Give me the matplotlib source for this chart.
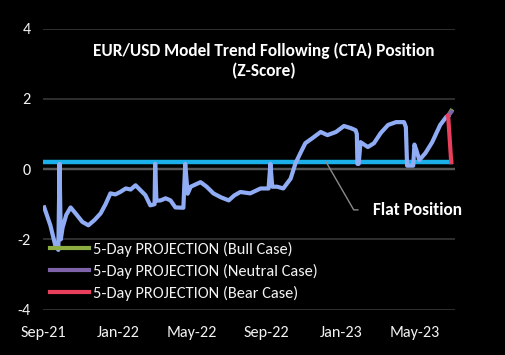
import numpy as np
import matplotlib
matplotlib.use('Agg')
import matplotlib.pyplot as plt
import matplotlib.dates as mdates

plt.rcParams['font.family'] = ['Carlito', 'DejaVu Sans']
plt.rcParams['axes.unicode_minus'] = False

# CTA position z-score
dates = ['2021-09-03', '2021-09-13', '2021-09-21', '2021-09-26', '2021-09-28', '2021-09-30',
         '2021-10-03', '2021-10-09', '2021-10-16', '2021-10-26', '2021-11-04', '2021-11-14',
         '2021-11-24', '2021-12-04', '2021-12-12', '2021-12-20', '2021-12-28', '2022-01-05',
         '2022-01-14', '2022-01-22', '2022-01-30', '2022-02-07', '2022-02-15', '2022-02-23',
         '2022-03-02', '2022-03-03', '2022-03-05', '2022-03-12', '2022-03-20', '2022-03-28',
         '2022-04-05', '2022-04-18', '2022-04-21', '2022-04-25', '2022-04-30', '2022-05-16',
         '2022-05-26', '2022-06-06', '2022-06-18', '2022-07-01', '2022-07-10', '2022-07-20',
         '2022-08-05', '2022-08-22', '2022-09-04', '2022-09-07', '2022-09-10', '2022-09-18',
         '2022-09-28', '2022-10-10', '2022-10-18', '2022-10-26', '2022-11-03', '2022-11-15',
         '2022-11-28', '2022-12-09', '2022-12-23', '2023-01-05', '2023-01-16', '2023-01-24',
         '2023-01-26', '2023-01-27', '2023-01-29', '2023-02-01', '2023-02-13', '2023-02-23',
         '2023-03-06', '2023-03-18', '2023-03-31', '2023-04-13', '2023-04-16', '2023-04-18',
         '2023-04-24', '2023-04-28', '2023-04-30', '2023-05-03', '2023-05-08', '2023-05-18',
         '2023-05-29', '2023-06-11', '2023-06-21', '2023-06-24']
zscore = [-1.09, -1.6, -2.17, -2.3, 0.15, -2.0,
          -1.66, -1.3, -1.09, -1.3, -1.5, -1.6,
          -1.45, -1.26, -1.0, -0.69, -0.72, -0.65,
          -0.55, -0.58, -0.46, -0.6, -0.74, -1.03,
          -1.0, 0.15, -0.9, -0.89, -0.83, -0.89,
          -1.09, -1.1, 0.15, -0.7, -0.5, -0.37,
          -0.5, -0.69, -0.8, -0.89, -0.75, -0.65,
          -0.69, -0.55, -0.55, 0.15, -0.5, -0.5,
          -0.55, -0.27, 0.17, 0.46, 0.74, 0.89,
          1.06, 0.97, 1.06, 1.23, 1.17, 1.11,
          1.0, 0.15, 0.15, 0.77, 0.63, 0.74,
          1.03, 1.26, 1.34, 1.34, 1.2, 0.1,
          0.1, 0.1, 0.7, 0.55, 0.26, 0.46,
          0.77, 1.26, 1.49, 1.52]

proj_dates = ['2023-06-24', '2023-06-29']
bull = [1.52, 1.66]
neutral = [1.52, 1.63]
bear = [1.52, 0.2]

flat_dates = ['2021-09-01', '2023-06-29']
flat = [0.2, 0.2]

x = np.array(dates, dtype='datetime64[D]')
px = np.array(proj_dates, dtype='datetime64[D]')
fx = np.array(flat_dates, dtype='datetime64[D]')

fig = plt.figure(figsize=(5.06, 3.55), dpi=100, facecolor='black')
ax = fig.add_axes([0.085, 0.128, 0.814, 0.791], facecolor='black')

ax.set_ylim(-4, 4)
ax.set_yticks([-4, -2, 0, 2, 4])
ax.set_xlim(np.datetime64('2021-09-01'), np.datetime64('2023-07-05'))
ax.xaxis.set_major_locator(mdates.MonthLocator(bymonth=[1, 5, 9]))
ax.xaxis.set_major_formatter(mdates.DateFormatter('%b-%y'))
for s in ax.spines.values():
    s.set_visible(False)
ax.tick_params(length=0, colors='#f2f2f2', labelsize=12)
ax.tick_params(axis='y', pad=9)
ax.tick_params(axis='x', pad=12)
ax.grid(axis='y', color='#3c3c3c', lw=1.1)
ax.axhline(0, color='#a8a8a8', lw=1.6, zorder=1)

ax.plot(fx, flat, color='#1cb0ea', lw=3.2, zorder=3)
ax.plot(x, zscore, color='#90acf4', lw=3, zorder=4, solid_joinstyle='round')
ax.plot(px, bull, color='#8cac44', lw=3, zorder=5, label='5-Day PROJECTION (Bull Case)')
ax.plot(px, neutral, color='#7f63a8', lw=3, zorder=6, label='5-Day PROJECTION (Neutral Case)')
ax.plot(px, bear, color='#e8405c', lw=3, zorder=7, label='5-Day PROJECTION (Bear Case)')

ax.annotate('Flat Position', xy=(np.datetime64('2022-12-07'), 0.2),
            xytext=(np.datetime64('2023-02-22'), -1.16),
            color='white', fontsize=12.5, fontweight='bold', ha='left', va='center',
            arrowprops=dict(arrowstyle='-', color='#8a8a8a', lw=1,
                            connectionstyle='angle,angleA=0,angleB=-60,rad=0',
                            relpos=(0, 0.5), shrinkA=9, shrinkB=0))

title = ax.text(0.536, 0.887, 'EUR/USD Model Trend Following (CTA) Position\n(Z-Score)',
                transform=ax.transAxes, ha='center', va='center', color='white',
                fontsize=13, fontweight='bold', linespacing=1.3)


def width_of(artist):
    fig.canvas.draw()
    return artist.get_window_extent().width


# size texts so their widths match the reference picture (pixels)
title.set_fontsize(13 * 342 / width_of(title))
tick_size = 12 * 45 / width_of(ax.get_xticklabels()[0])
ax.tick_params(labelsize=tick_size)

leg = ax.legend(fontsize=12)
leg_size = 12 * 199 / width_of(leg.get_texts()[0])
leg.remove()

leg = ax.legend(loc='upper left', bbox_to_anchor=(0.017, 0.241), frameon=False,
                fontsize=leg_size, handlelength=2.4, handletextpad=0.25, labelspacing=0.42,
                borderpad=0, borderaxespad=0)
for t in leg.get_texts():
    t.set_color('#f2f2f2')

fig.savefig('out.png', dpi=100, facecolor='black')
